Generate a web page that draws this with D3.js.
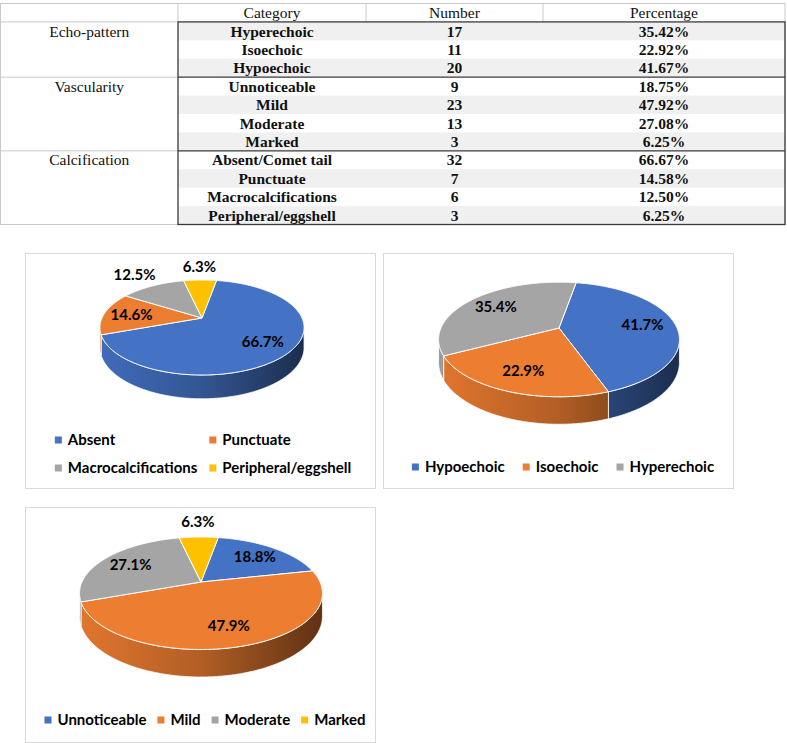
<!DOCTYPE html>
<html><head><meta charset="utf-8">
<script src="https://cdn.jsdelivr.net/npm/d3@7"></script>
<style>body{margin:0;background:#fff} svg{display:block}</style>
</head><body>
<svg id="c" width="787" height="743"></svg>
<script>
// ---------- DATA ----------
const tableHeaders = ["Category", "Number", "Percentage"];
const groupNames = ["Echo-pattern", "Vascularity", "Calcification"];
const groupSizes = [3, 4, 4];
const tableCategories = ["Hyperechoic", "Isoechoic", "Hypoechoic", "Unnoticeable", "Mild", "Moderate", "Marked",
  "Absent/Comet tail", "Punctuate", "Macrocalcifications", "Peripheral/eggshell"];
const tableNumbers = [17, 11, 20, 9, 23, 13, 3, 32, 7, 6, 3];
const tablePercentages = ["35.42%", "22.92%", "41.67%", "18.75%", "47.92%", "27.08%", "6.25%",
  "66.67%", "14.58%", "12.50%", "6.25%"];

const calcCategories = ["Absent", "Punctuate", "Macrocalcifications", "Peripheral/eggshell"];
const calcValues = [66.7, 14.6, 12.5, 6.3];
const echoCategories = ["Hypoechoic", "Isoechoic", "Hyperechoic"];
const echoValues = [41.7, 22.9, 35.4];
const vascCategories = ["Unnoticeable", "Mild", "Moderate", "Marked"];
const vascValues = [18.8, 47.9, 27.1, 6.3];

const sliceColors = ["#4472c4", "#ed7d31", "#a5a5a5", "#ffc000"];

// ---------- TABLE ----------
const svg = d3.select("#c");
const colX = [0.5, 178, 366, 543, 785];
const nRows = 1 + tableCategories.length;
const rowY = d3.scaleLinear().domain([0, nRows]).range([3.5, 224.5]);
const rowH = rowY(1) - rowY(0);
const tfont = "'Liberation Serif','Times New Roman',serif";
const tsize = "15.5px";
const light = "#c9c9c9", dark = "#3a3a3a";

const tg = svg.append("g");
tg.selectAll("rect.sh").data(tableCategories.map((d, i) => i).filter(i => i % 2 === 0))
  .join("rect").attr("class", "sh")
  .attr("x", colX[1]).attr("width", colX[4] - colX[1])
  .attr("y", i => rowY(i + 1)).attr("height", rowH)
  .attr("fill", "#f0f0f0");
tg.append("rect").attr("x", colX[0]).attr("y", rowY(0)).attr("width", colX[4] - colX[0])
  .attr("height", rowY(nRows) - rowY(0)).attr("fill", "none").attr("stroke", light);
tg.selectAll("line.hs").data([colX[1], colX[2], colX[3]]).join("line")
  .attr("x1", d => d).attr("x2", d => d).attr("y1", rowY(0)).attr("y2", rowY(1))
  .attr("stroke", light);
tg.append("line").attr("x1", colX[0]).attr("x2", colX[1]).attr("y1", rowY(1)).attr("y2", rowY(1)).attr("stroke", light);
const groupStarts = groupSizes.map((s, i) => d3.sum(groupSizes.slice(0, i)));
tg.selectAll("line.gl").data(groupStarts.slice(1)).join("line")
  .attr("x1", colX[0]).attr("x2", colX[1]).attr("y1", d => rowY(d + 1)).attr("y2", d => rowY(d + 1))
  .attr("stroke", light);
tg.selectAll("line.gd").data(groupStarts.slice(1)).join("line")
  .attr("x1", colX[1]).attr("x2", colX[4]).attr("y1", d => rowY(d + 1)).attr("y2", d => rowY(d + 1))
  .attr("stroke", dark).attr("stroke-width", 1.3);
tg.append("rect").attr("x", colX[1]).attr("y", rowY(1)).attr("width", colX[4] - colX[1])
  .attr("height", rowY(nRows) - rowY(1)).attr("fill", "none").attr("stroke", dark).attr("stroke-width", 1.3);

tg.selectAll("text.h").data(tableHeaders).join("text")
  .attr("x", (d, i) => (colX[i + 1] + colX[i + 2]) / 2).attr("y", rowY(0) + rowH / 2)
  .attr("dy", "0.35em").attr("text-anchor", "middle")
  .style("font-family", tfont).style("font-size", tsize).attr("fill", "#111").text(d => d);
tg.selectAll("text.g").data(groupNames).join("text")
  .attr("x", (colX[0] + colX[1]) / 2).attr("y", (d, i) => rowY(groupStarts[i] + 1) + rowH / 2)
  .attr("dy", "0.35em").attr("text-anchor", "middle")
  .style("font-family", tfont).style("font-size", tsize).attr("fill", "#111").text(d => d);
const rowsData = tableCategories.map((c, i) => [c, tableNumbers[i], tablePercentages[i]]);
rowsData.forEach((row, i) => {
  tg.selectAll(null).data(row).join("text")
    .attr("x", (d, j) => (colX[j + 1] + colX[j + 2]) / 2).attr("y", rowY(i + 1) + rowH / 2)
    .attr("dy", "0.35em").attr("text-anchor", "middle")
    .style("font-family", tfont).style("font-size", tsize).style("font-weight", "bold")
    .attr("fill", "#111").text(d => d);
});

// ---------- PIES ----------
const pfont = "Lato, 'Open Sans', sans-serif";
const defs = svg.append("defs");

function drawPie(idx, cats, vals, o) {
  const g = svg.append("g");
  g.append("rect").attr("x", o.px + 0.5).attr("y", o.py + 0.5).attr("width", o.pw).attr("height", o.ph)
    .attr("fill", "#fff").attr("stroke", "#d9d9d9");
  const d = 5;
  const cx = o.px + o.cx, cy = o.py + o.cy;
  const proj = (t, r, drop) => {
    const X = r * Math.sin(t), Z = -r * Math.cos(t);
    const s = d / (d - Z);
    return [cx + o.R * X * s, cy + (o.Rk * Z + drop) * s];
  };
  const arcs = d3.pie().sort(null).value(v => v)
    .startAngle(10 * Math.PI / 180).endAngle(370 * Math.PI / 180)(vals);
  sliceColors.slice(0, vals.length).forEach((c, i) => {
    const gr = defs.append("linearGradient").attr("id", `g${idx}_${i}`)
      .attr("gradientUnits", "userSpaceOnUse")
      .attr("x1", cx - o.R * 1.03).attr("x2", cx + o.R * 1.03).attr("y1", 0).attr("y2", 0);
    gr.append("stop").attr("offset", 0).attr("stop-color", d3.color(c).darker(0.15));
    gr.append("stop").attr("offset", 0.5).attr("stop-color", d3.color(c).darker(0.8));
    gr.append("stop").attr("offset", 1).attr("stop-color", d3.color(c).darker(2.6));
  });
  const vA = Math.acos(-1 / d), vB = 2 * Math.PI - vA;
  const step = Math.PI / 360;
  const sample = (a0, a1) => {
    const n = Math.max(2, Math.ceil((a1 - a0) / step));
    return d3.range(n + 1).map(k => a0 + (a1 - a0) * k / n);
  };
  arcs.forEach((a, i) => {
    const lo = Math.max(a.startAngle, vA), hi = Math.min(a.endAngle, vB);
    if (hi <= lo) return;
    const ts = sample(lo, hi);
    const pts = ts.map(t => proj(t, 1, 0)).concat(ts.slice().reverse().map(t => proj(t, 1, o.h)));
    g.append("path").attr("d", "M" + pts.map(p => p.join(",")).join("L") + "Z")
      .attr("fill", `url(#g${idx}_${i})`).attr("stroke", "#fff").attr("stroke-width", 0.8)
      .attr("stroke-linejoin", "round");
  });
  arcs.forEach((a, i) => {
    const pts = [[cx, cy]].concat(sample(a.startAngle, a.endAngle).map(t => proj(t, 1, 0)));
    g.append("path").attr("d", "M" + pts.map(p => p.join(",")).join("L") + "Z")
      .attr("fill", sliceColors[i]).attr("stroke", "#fff").attr("stroke-width", 1)
      .attr("stroke-linejoin", "round");
  });
  arcs.forEach((a, i) => {
    const m = (a.startAngle + a.endAngle) / 2;
    const p = proj(m, a.value < 13 ? 1.45 : 0.72, 0);
    g.append("text").attr("x", p[0]).attr("y", p[1]).attr("dy", "0.36em")
      .attr("text-anchor", "middle").style("font-family", pfont).style("font-weight", "bold")
      .style("font-size", "15px").attr("fill", "#000").text(a.value.toFixed(1) + "%");
  });
  const lg = g.append("g");
  const items = cats.map((c, i) => {
    const it = lg.append("g");
    it.append("rect").attr("width", 7).attr("height", 7).attr("y", -3.5).attr("fill", sliceColors[i]);
    const t = it.append("text").attr("x", 13).attr("dy", "0.36em").style("font-family", pfont)
      .style("font-weight", "bold").style("font-size", "15px").attr("fill", "#000").text(c);
    return { it, w: 13 + t.node().getComputedTextLength() };
  });
  const cols = o.cols;
  const colW = d3.range(cols).map(c => d3.max(items.filter((_, i) => i % cols === c), d => d.w));
  if (cols > 1) {
    const colStart = [0]; for (let c = 1; c < cols; c++) colStart.push(colStart[c - 1] + colW[c - 1] + o.gap);
    const total = colStart[cols - 1] + colW[cols - 1];
    const x0 = o.px + o.pw / 2 - total / 2 + o.lshift;
    items.forEach((d, i) => d.it.attr("transform",
      `translate(${x0 + colStart[i % cols]},${o.py + o.ly + Math.floor(i / cols) * o.lrow})`));
  } else {
    const total = d3.sum(items, d => d.w) + o.gap * (items.length - 1);
    let x = o.px + o.pw / 2 - total / 2 + o.lshift;
    items.forEach(d => { d.it.attr("transform", `translate(${x},${o.py + o.ly})`); x += d.w + o.gap; });
  }
}

drawPie(0, calcCategories, calcValues,
  { px: 25, py: 253, pw: 350, ph: 235, cx: 177, cy: 65, R: 100, Rk: 45.6, h: 19,
    cols: 2, gap: 12, ly: 187, lrow: 28, lshift: 3 });
drawPie(1, echoCategories, echoValues,
  { px: 383, py: 253, pw: 350, ph: 235, cx: 176, cy: 75, R: 118, Rk: 55, h: 22,
    cols: 1, gap: 18, ly: 214, lrow: 0, lshift: 5 });
drawPie(2, vascCategories, vascValues,
  { px: 25, py: 507, pw: 350, ph: 235, cx: 176, cy: 75, R: 119, Rk: 54, h: 22,
    cols: 1, gap: 11, ly: 213, lrow: 0, lshift: 5 });
</script>
</body></html>
